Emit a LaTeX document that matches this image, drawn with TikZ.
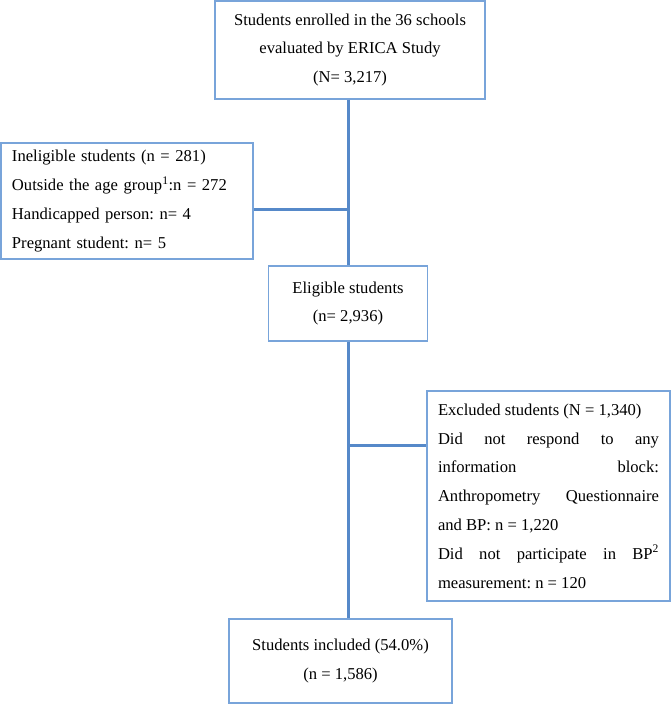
\documentclass[tikz,border=0pt]{standalone}
\usepackage{fontspec}
\setmainfont{Liberation Serif}
\frenchspacing
\definecolor{boxblue}{RGB}{120,164,218}
\definecolor{lineblue}{RGB}{86,137,201}
\begin{document}
\begin{tikzpicture}[x=1pt,y=-1pt,
  box/.style={draw=boxblue, line width=1.3pt, fill=white, inner sep=0pt,
    font=\fontsize{16.6}{28.8}\selectfont\frenchspacing},
  conn/.style={draw=lineblue, line width=3pt}]
\useasboundingbox (0,0) rectangle (671,704);

\node[box, minimum width=270pt, minimum height=98pt, align=center] (top) at (350,50)
  {Students enrolled in the 36 schools\\evaluated by ERICA Study\\(N= 3,217)};

\node[box, minimum width=252pt, minimum height=116pt, text width=230pt, align=left] (inel) at (127,201)
  {Ineligible students (n = 281)\\Outside the age group\textsuperscript{1}:n = 272\\Handicapped person: n= 4\\Pregnant student: n= 5};

\node[box, minimum width=159pt, minimum height=75pt, align=center] (elig) at (348,303.5)
  {Eligible students\\(n= 2,936)};

\node[box, minimum width=243pt, minimum height=210pt, text width=221pt, align=justify] (excl) at (548.5,496)
  {\parindent=0pt\hyphenpenalty=10000 Excluded students (N = 1,340)\par
   Did not respond to any\linebreak information block:\linebreak Anthropometry Questionnaire\linebreak and BP: n = 1,220\par
   Did not participate in BP\textsuperscript{2}\linebreak measurement: n = 120\par};

\node[box, minimum width=223pt, minimum height=84pt, align=center] (incl) at (340.5,661)
  {Students included (54.0\%)\\(n = 1,586)};

\coordinate (j1) at (348,209);
\coordinate (j2) at (348,445);

\draw[conn] (elig.north |- top.south) -- (elig.north);
\draw[conn] (elig.south) -- (elig.south |- incl.north);
\draw[conn] (inel.east |- j1) -- (j1);
\draw[conn] (j2) -- (j2 -| excl.west);
\end{tikzpicture}
\end{document}
